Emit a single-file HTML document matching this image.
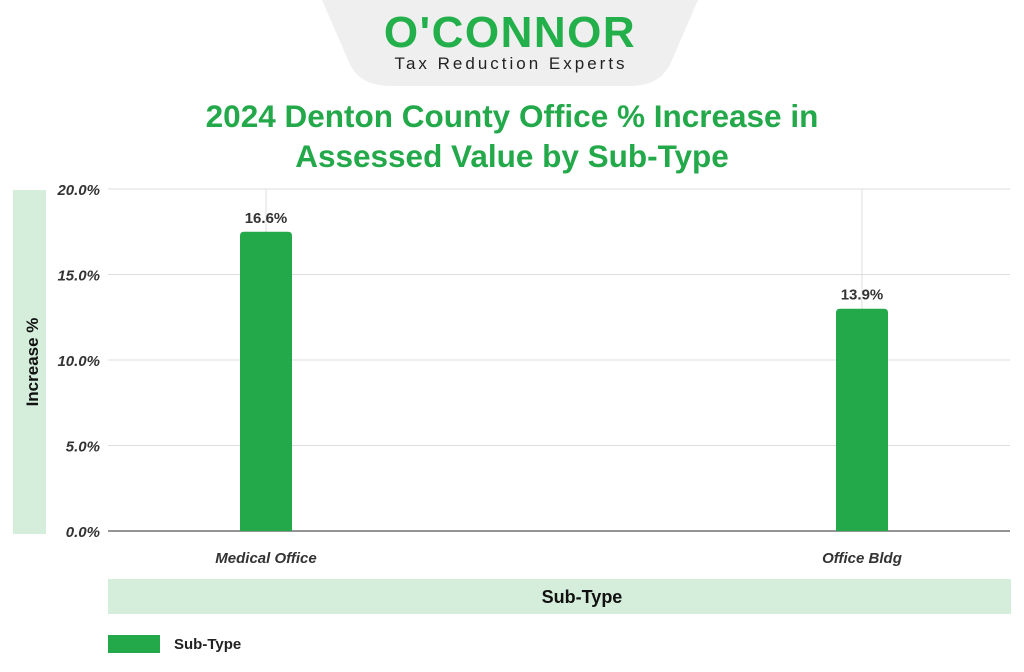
<!DOCTYPE html>
<html><head><meta charset="utf-8"><style>
body{margin:0;width:1024px;height:672px;background:#fff;font-family:"Liberation Sans",sans-serif;overflow:hidden;position:relative}
.abs{position:absolute}
</style></head><body>
<svg class="abs" style="left:0;top:0" width="1024" height="672">
<path d="M322,0 L698,0 L672,60 Q662,86 630,86 L390,86 Q358,86 348,60 Z" fill="#efefef"/>
<text x="510" y="47" text-anchor="middle" font-size="44" font-weight="bold" fill="#23b04b" letter-spacing="1.5">O'CONNOR</text>
<text x="511" y="69" text-anchor="middle" font-size="17" fill="#222" letter-spacing="3">Tax Reduction Experts</text>
<text x="512" y="127" text-anchor="middle" font-size="31.5" font-weight="bold" fill="#23a84a">2024 Denton County Office % Increase in</text>
<text x="512" y="167" text-anchor="middle" font-size="31.5" font-weight="bold" fill="#23a84a">Assessed Value by Sub-Type</text>
<rect x="13" y="190" width="33" height="344" fill="#d5eedb"/>
<text transform="translate(38,362) rotate(-90)" text-anchor="middle" font-size="17" font-weight="bold" fill="#111">Increase %</text>
<rect x="108" y="579" width="903" height="35" fill="#d5eedb"/>
<text x="582" y="603" text-anchor="middle" font-size="18" font-weight="bold" fill="#111">Sub-Type</text>
<rect x="108" y="635" width="52" height="18" fill="#23a84a"/>
<text x="174" y="649" font-size="15" font-weight="bold" fill="#222">Sub-Type</text>
<g id="plot"></g>
</svg>
<script>
const categories=["Medical Office","Office Bldg"];
const values=[17.5,13.0];
const valueLabels=["16.6%","13.9%"];
const ticks=[0,5,10,15,20];
const tickLabels=["0.0%","5.0%","10.0%","15.0%","20.0%"];
const NS="http://www.w3.org/2000/svg";
const g=document.getElementById('plot');
const x0=108,x1=1010,yTop=189,yBot=531;
const y=v=>yBot-(v/20)*(yBot-yTop);
const xc=i=>266+i*596;
function mk(t,a){const e=document.createElementNS(NS,t);for(const k in a)e.setAttribute(k,a[k]);g.appendChild(e);return e;}
ticks.forEach((t,i)=>{
 const l=mk('line',{x1:x0,x2:x1,y1:y(t),y2:y(t),stroke:t===0?'#555':'#ddd','stroke-width':t===0?1.2:1});
 
 
 const tx=mk('text',{x:100,y:y(t)+6,'text-anchor':'end','font-size':15,'font-weight':'bold','font-style':'italic',fill:'#333'});
 tx.textContent=tickLabels[i];
 
 
});
categories.forEach((c,i)=>{
 const v=mk('line',{x1:xc(i),x2:xc(i),y1:yTop,y2:yBot,stroke:'#ddd'});
 
 
 const b=mk('path',{d:`M${xc(i)-26},${yBot} V${y(values[i])+4} Q${xc(i)-26},${y(values[i])} ${xc(i)-22},${y(values[i])} H${xc(i)+22} Q${xc(i)+26},${y(values[i])} ${xc(i)+26},${y(values[i])+4} V${yBot} Z`,fill:'#23a84a'});
 
 
 const vl=mk('text',{x:xc(i),y:y(values[i])-9,'text-anchor':'middle','font-size':15,'font-weight':'bold',fill:'#333'});
 vl.textContent=valueLabels[i];
 
 
 const xl=mk('text',{x:xc(i),y:563,'text-anchor':'middle','font-size':15,'font-weight':'bold','font-style':'italic',fill:'#333'});
 xl.textContent=c;
 
 
});
</script>
</body></html>
